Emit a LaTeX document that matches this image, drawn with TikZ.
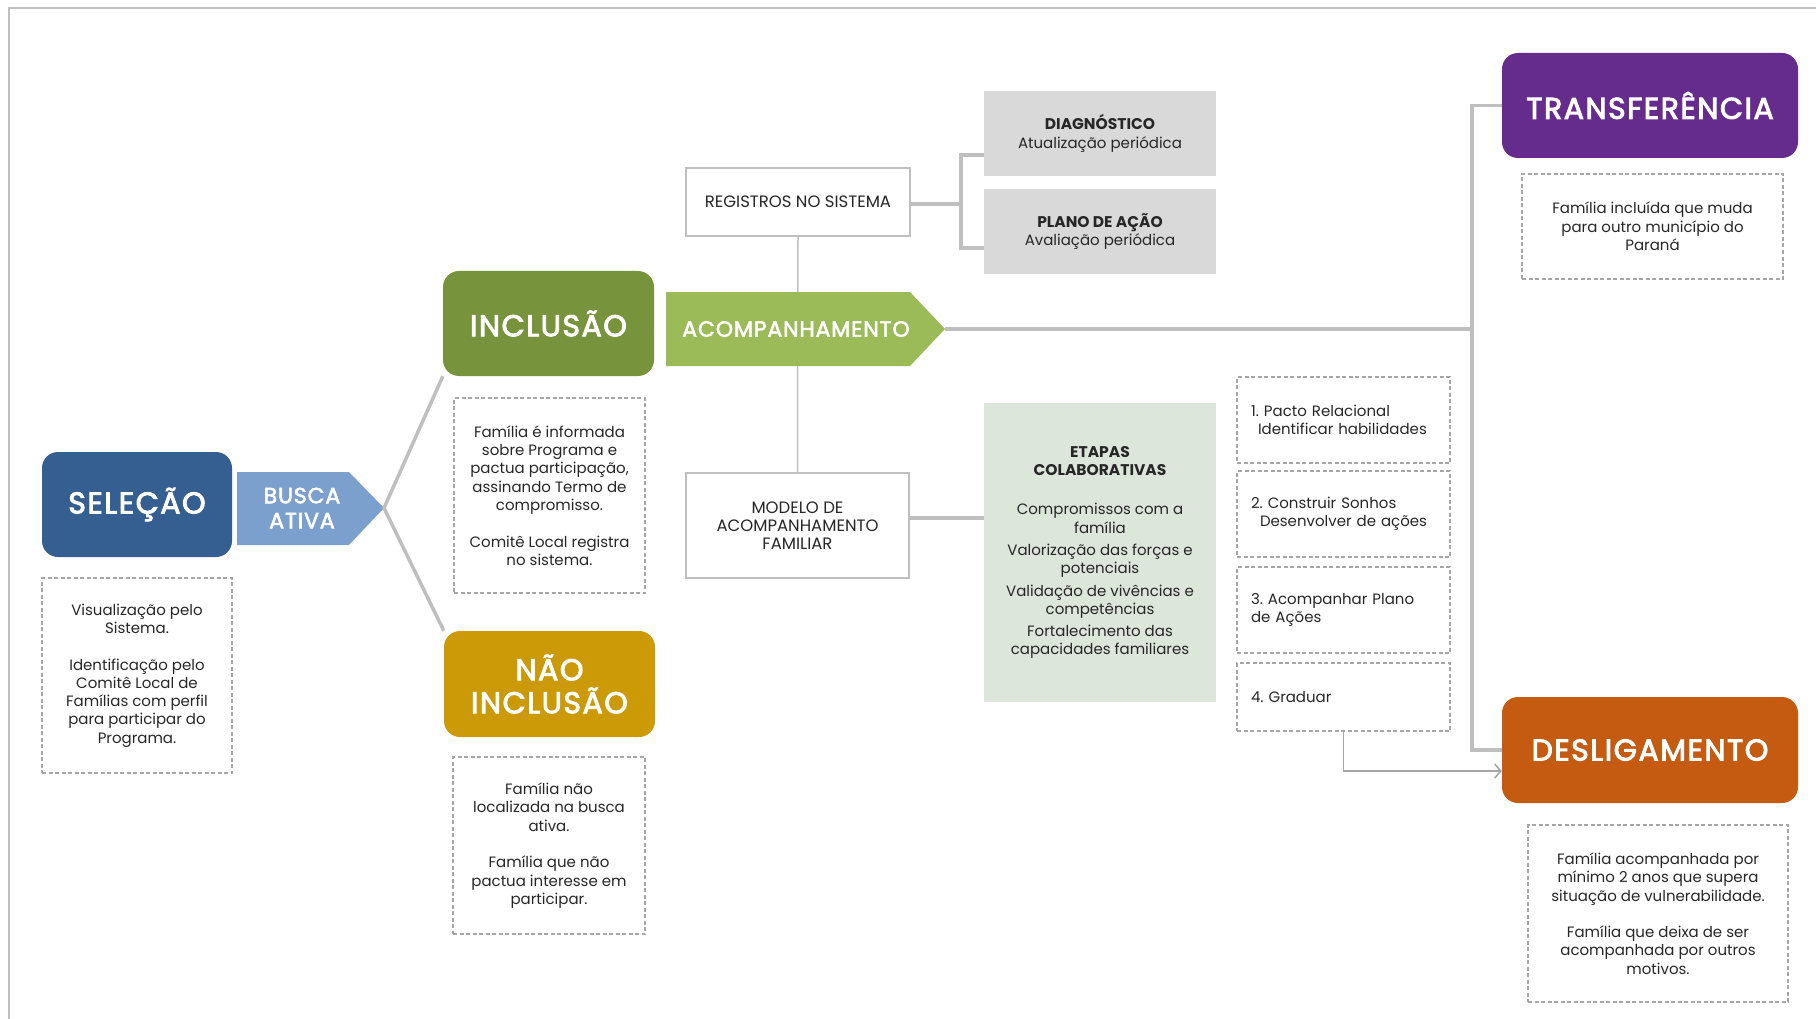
\documentclass[tikz,border=0pt]{standalone}
\usepackage{fontspec}
\setmainfont{Poppins}
\newfontfamily\headfam{Poppins}[FakeBold=3,LetterSpace=5]
\newfontfamily\arrowfam{Poppins}[FakeBold=2.5,LetterSpace=4]
\usepackage{tikz}
\usetikzlibrary{arrows.meta,calc}

\definecolor{selblue}{HTML}{365F91}
\definecolor{buscablue}{HTML}{7BA0CD}
\definecolor{inclgreen}{HTML}{77933C}
\definecolor{acompgreen}{HTML}{9BBB59}
\definecolor{naogold}{HTML}{CC9A06}
\definecolor{transfpurple}{HTML}{652C8E}
\definecolor{deslorange}{HTML}{C55A11}
\definecolor{boxgray}{HTML}{D9D9D9}
\definecolor{etapagreen}{HTML}{DCE6DA}
\definecolor{linegray}{HTML}{BFBFBF}
\definecolor{dashgray}{HTML}{A6A6A6}
\definecolor{textgray}{HTML}{262626}

\newcommand{\headfont}{\headfam\fontsize{30}{33}\selectfont}
\newcommand{\arrowfont}{\arrowfam\fontsize{22}{25}\selectfont}
\newcommand{\notefont}{\fontsize{15}{18.3}\selectfont}
\newcommand{\capsfont}{\fontsize{16.5}{18.3}\selectfont}
\newcommand{\titlefont}[1]{{\fontsize{15.5}{18.3}\selectfont\bfseries #1}}

\tikzset{
  headbox/.style={rectangle, rounded corners=16pt, text=white, inner sep=0pt,
                  align=center, font=\headfont},
  notebox/.style={rectangle, draw=dashgray, line width=1.3pt, dash pattern=on 4pt off 2.5pt,
                  inner sep=0pt, align=center, text=textgray, font=\notefont},
  stepbox/.style={notebox, align=left, text width=185pt, inner xsep=14pt, minimum width=213pt},
  graybox/.style={rectangle, fill=boxgray, inner sep=0pt, align=center, text=textgray, font=\notefont},
  plainbox/.style={rectangle, draw=linegray, line width=1.5pt, fill=white, inner sep=0pt,
                   align=center, text=textgray, font=\capsfont},
  link/.style={draw=linegray, line width=3.5pt},
  thinlink/.style={draw=linegray, line width=1.5pt}
}

\begin{document}
\frenchspacing
\begin{tikzpicture}[x=1pt,y=-1pt]
\useasboundingbox (0,0) rectangle (1816,1019);
\draw[linegray,line width=2.5pt] (9,1019) -- (9,8) -- (1816,8);

% main stages
\node[headbox, fill=selblue, minimum width=190pt, minimum height=105pt] (sel) at (137,504.5) {SELEÇÃO};
\node[headbox, fill=inclgreen, minimum width=211pt, minimum height=105pt] (incl) at (548.5,323.5) {INCLUSÃO};
\node[headbox, fill=naogold, minimum width=211pt, minimum height=106pt] (naoincl) at (549.5,684) {NÃO\\INCLUSÃO};
\node[headbox, fill=transfpurple, minimum width=296pt, minimum height=105pt] (transf) at (1650,105.5) {TRANSFERÊNCIA};
\node[headbox, fill=deslorange, minimum width=296pt, minimum height=106pt] (desl) at (1650,750) {DESLIGAMENTO};

% notes under the stages
\node[notebox, minimum width=190pt, minimum height=195pt] (seltxt) at (137,675.5)
  {Visualização pelo\\Sistema.\\[18.3pt]Identificação pelo\\Comitê Local de\\Famílias com perfil\\para participar do\\Programa.};
\node[notebox, minimum width=191pt, minimum height=195pt] (incltxt) at (549.5,495.5)
  {Família é informada\\sobre Programa e\\pactua participação,\\assinando Termo de\\compromisso.\\[18.3pt]Comitê Local registra\\no sistema.};
\node[notebox, minimum width=192pt, minimum height=177pt] (naotxt) at (549,845.5)
  {Família não\\localizada na busca\\ativa.\\[18.3pt]Família que não\\pactua interesse em\\participar.};
\node[notebox, minimum width=261pt, minimum height=105pt] (transftxt) at (1652.5,226.5)
  {Família incluída que muda\\para outro município do\\Paraná};
\node[notebox, minimum width=260pt, minimum height=177pt] (desltxt) at (1658,913.5)
  {Família acompanhada por\\mínimo 2 anos que supera\\situação de vulnerabilidade.\\[18.3pt]Família que deixa de ser\\acompanhada por outros\\motivos.};

% busca ativa
\coordinate (buscatip) at (384,508);
\fill[buscablue] (237,472) -- (349,472) -- (buscatip) -- (349,545) -- (237,545) -- cycle;
\node[font=\arrowfont, text=white, align=center, inner sep=0pt] (busca) at (302,508) {BUSCA\\ATIVA};
\draw[link, line join=round] (incl.south west) -- (buscatip) -- (naoincl.north west);

% acompanhamento
\node[plainbox, minimum width=224pt, minimum height=68pt] (regist) at (798,202) {REGISTROS NO SISTEMA};
\node[plainbox, minimum width=223pt, minimum height=105pt] (modelo) at (797.5,525.5) {MODELO DE\\ACOMPANHAMENTO\\FAMILIAR};
\draw[thinlink] (regist.south) -- (modelo.north);
\coordinate (acomptip) at (945,329);
\fill[acompgreen] (666,292) -- (910,292) -- (acomptip) -- (910,366) -- (666,366) -- cycle;
\node[font=\arrowfont, text=white, inner sep=0pt] (acomp) at (796,329) {ACOMPANHAMENTO};

\node[graybox, minimum width=232pt, minimum height=85pt] (diag) at (1100,133.5)
  {\titlefont{DIAGNÓSTICO}\\Atualização periódica};
\node[graybox, minimum width=232pt, minimum height=85pt] (plano) at (1100,231.5)
  {\titlefont{PLANO DE AÇÃO}\\Avaliação periódica};
\coordinate (bkt) at (961,204);
\draw[link] (regist.east |- bkt) -- (bkt);
\draw[link] ($(diag.west)+(0,21.5)$) -| (bkt) |- ($(plano.west)+(0,16.5)$);

\node[graybox, fill=etapagreen, minimum width=232pt, minimum height=299pt] (etapas) at (1100,552.5)
  {\titlefont{ETAPAS}\\\titlefont{COLABORATIVAS}\\[21pt]Compromissos com a\\família\\[4pt]Valorização das forças e\\potenciais\\[4pt]Validação de vivências e\\competências\\[4pt]Fortalecimento das\\capacidades familiares};
\coordinate (mlink) at ($(modelo.east)+(0,-7.5)$);
\draw[link] (mlink) -- (mlink -| etapas.west);

% etapas numeradas
\node[stepbox, minimum height=86pt] (pacto) at (1343.5,420) {1. Pacto Relacional\\\hspace*{7pt}Identificar habilidades};
\node[stepbox, minimum height=86pt] (sonhos) at (1343.5,514) {2. Construir Sonhos\\\hspace*{9pt}Desenvolver de ações};
\node[stepbox, minimum height=86pt] (acplano) at (1343.5,610) {3. Acompanhar Plano\\de Ações};
\node[stepbox, minimum height=68pt] (grad) at (1343.5,697) {4. Graduar};

% saidas
\coordinate (bus) at (1472,105.5);
\draw[link] (transf.west) -- (bus) |- (desl.west);
\draw[link] (acomptip) -- (acomptip -| bus);
\draw[draw=dashgray, line width=1.6pt, -{Straight Barb[length=6pt,width=14pt]}]
  (grad.south) |- ($(desl.west)+(0,21)$);
\end{tikzpicture}
\end{document}
